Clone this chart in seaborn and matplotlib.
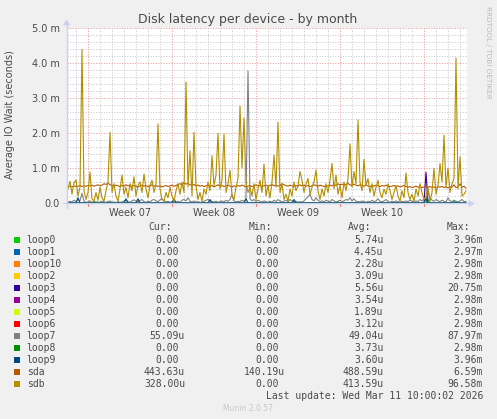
import numpy as np
import pandas as pd
import matplotlib
matplotlib.use("Agg")
import matplotlib.pyplot as plt
from matplotlib.patches import Rectangle, Polygon
from matplotlib.lines import Line2D
import seaborn as sns
from datetime import datetime, timedelta

# ---------------- data (values in milliseconds, 4-hour samples) ----------------
START = datetime(2026, 2, 6, 6, 0)
STEP_H = 4
SPAN_H = 800

sdb = [0.40, 0.62, 0.25, 0.58, 0.66, 0.20, 0.45, 4.39, 0.35, 0.10,
       0.30, 0.88, 0.12, 0.05, 0.30, 0.08, 0.45, 0.15, 0.05, 0.35,
       0.60, 2.02, 0.30, 0.55, 0.20, 0.05, 0.40, 0.80, 0.25, 0.45,
       0.15, 0.55, 0.35, 0.75, 0.20, 0.50, 0.60, 0.30, 0.83, 0.40,
       0.15, 0.50, 0.65, 0.30, 0.55, 2.26, 0.40, 0.10, 0.05, 0.30,
       0.15, 0.45, 0.20, 0.05, 0.35, 0.55, 0.25, 0.60, 0.30, 3.46,
       0.45, 1.49, 0.20, 2.02, 0.50, 0.10, 0.30, 0.05, 0.40, 0.25,
       0.60, 0.35, 1.35, 0.50, 0.80, 1.99, 0.40, 0.65, 1.97, 0.30,
       0.55, 0.94, 0.20, 0.10, 0.45, 0.70, 2.77, 1.00, 2.43, 0.60,
       0.30, 0.45, 0.20, 0.55, 0.10, 0.40, 0.65, 0.30, 1.11, 0.20,
       0.50, 0.15, 0.60, 1.37, 0.45, 2.31, 0.30, 0.55, 0.10, 0.25,
       0.05, 0.40, 0.20, 0.60, 0.35, 0.50, 0.90, 0.65, 0.30, 0.55,
       0.70, 0.25, 0.45, 0.60, 0.94, 0.35, 0.10, 0.40, 0.20, 0.55,
       0.30, 0.65, 1.13, 0.40, 0.80, 0.25, 0.50, 0.15, 0.60, 0.35,
       0.70, 1.69, 0.45, 0.90, 0.55, 2.37, 0.60, 0.35, 1.25, 0.50,
       0.70, 0.30, 0.55, 0.20, 0.45, 0.65, 0.30, 0.15, 0.40, 0.25,
       0.55, 0.35, 0.10, 0.30, 0.50, 0.20, 0.05, 0.35, 0.15, 0.86,
       0.30, 0.10, 0.25, 0.05, 0.40, 0.20, 0.55, 0.30, 0.10, 0.20,
       0.45, 0.05, 0.30, 0.99, 0.25, 0.50, 1.13, 0.60, 1.94, 0.45,
       1.00, 0.30, 0.55, 0.70, 4.14, 0.40, 1.32, 0.20, 0.25, 0.35]

sda = [0.47, 0.48, 0.46, 0.49, 0.47, 0.48, 0.50, 0.47, 0.49, 0.48,
       0.50, 0.49, 0.51, 0.48, 0.50, 0.52, 0.49, 0.51, 0.55, 0.53,
       0.57, 0.52, 0.50, 0.48, 0.51, 0.49, 0.47, 0.50, 0.48, 0.52,
       0.49, 0.51, 0.47, 0.50, 0.48, 0.46, 0.49, 0.51, 0.48, 0.50,
       0.47, 0.49, 0.52, 0.48, 0.50, 0.47, 0.49, 0.46, 0.48, 0.50,
       0.47, 0.49, 0.51, 0.48, 0.50, 0.53, 0.55, 0.52, 0.58, 0.54,
       0.56, 0.52, 0.50, 0.53, 0.49, 0.51, 0.48, 0.50, 0.47, 0.49,
       0.51, 0.48, 0.50, 0.46, 0.49, 0.52, 0.48, 0.50, 0.47, 0.49,
       0.51, 0.48, 0.46, 0.49, 0.47, 0.50, 0.48, 0.51, 0.49, 0.46,
       0.48, 0.50, 0.47, 0.49, 0.52, 0.48, 0.50, 0.47, 0.49, 0.51,
       0.48, 0.50, 0.53, 0.49, 0.51, 0.48, 0.50, 0.55, 0.52, 0.50,
       0.48, 0.51, 0.49, 0.47, 0.50, 0.48, 0.52, 0.49, 0.51, 0.48,
       0.50, 0.47, 0.49, 0.52, 0.50, 0.48, 0.51, 0.49, 0.47, 0.50,
       0.48, 0.51, 0.49, 0.53, 0.50, 0.55, 0.52, 0.54, 0.51, 0.53,
       0.56, 0.52, 0.50, 0.54, 0.51, 0.49, 0.52, 0.50, 0.48, 0.51,
       0.49, 0.47, 0.50, 0.48, 0.51, 0.49, 0.47, 0.50, 0.48, 0.51,
       0.49, 0.47, 0.48, 0.50, 0.47, 0.49, 0.46, 0.48, 0.50, 0.47,
       0.45, 0.47, 0.44, 0.46, 0.48, 0.45, 0.47, 0.44, 0.46, 0.49,
       0.45, 0.47, 0.44, 0.46, 0.43, 0.47, 0.45, 0.48, 0.44, 0.46,
       0.43, 0.47, 0.45, 0.52, 0.44, 0.46, 0.55, 0.45, 0.48, 0.42]

loop7 = [0.02, 0.05, 0.03, 0.08, 0.04, 0.10, 0.06, 0.28, 0.05, 0.02,
         0.03, 0.06, 0.02, 0.04, 0.01, 0.03, 0.02, 0.05, 0.03, 0.02,
         0.04, 0.06, 0.02, 0.03, 0.01, 0.04, 0.02, 0.03, 0.06, 0.08,
         0.04, 0.02, 0.06, 0.09, 0.05, 0.03, 0.07, 0.10, 0.04, 0.02,
         0.05, 0.03, 0.08, 0.10, 0.06, 0.04, 0.09, 0.12, 0.06, 0.03,
         0.05, 0.02, 0.04, 0.06, 0.03, 0.05, 0.02, 0.08, 0.10, 0.06,
         0.15, 0.05, 0.03, 0.06, 0.02, 0.04, 0.02, 0.03, 0.05, 0.08,
         0.10, 0.06, 0.04, 0.03, 0.05, 0.02, 0.04, 0.06, 0.03, 0.08,
         0.05, 0.10, 0.25, 0.06, 0.03, 0.05, 0.04, 0.08, 0.05, 0.10,
         3.77, 0.12, 0.06, 0.10, 0.04, 0.08, 0.05, 0.03, 0.06, 0.04,
         0.02, 0.05, 0.03, 0.08, 0.04, 0.10, 0.06, 0.03, 0.05, 0.08,
         0.04, 0.10, 0.06, 0.03, 0.05, 0.02, 0.04, 0.03, 0.06, 0.12,
         0.18, 0.25, 0.10, 0.06, 0.15, 0.08, 0.04, 0.06, 0.03, 0.08,
         0.05, 0.04, 0.10, 0.06, 0.03, 0.05, 0.08, 0.04, 0.06, 0.10,
         0.08, 0.15, 0.06, 0.12, 0.05, 0.04, 0.03, 0.06, 0.04, 0.02,
         0.05, 0.03, 0.08, 0.04, 0.06, 0.12, 0.05, 0.03, 0.06, 0.10,
         0.04, 0.02, 0.05, 0.03, 0.06, 0.04, 0.02, 0.05, 0.03, 0.06,
         0.04, 0.08, 0.05, 0.03, 0.06, 0.04, 0.10, 0.06, 0.12, 0.08,
         0.32, 0.15, 0.08, 0.05, 0.10, 0.06, 0.04, 0.08, 0.05, 0.03,
         0.15, 0.06, 0.04, 0.08, 0.05, 0.03, 0.06, 0.10, 0.04, 0.05]

# sparse spikes of the mostly idle loop devices (sample index, value)
loop9_idx = [5, 29, 35, 53, 71, 89, 113, 179]
loop9_val = [0.15, 0.12, 0.12, 0.13, 0.10, 0.12, 0.10, 0.12]
loop3_idx = [179]
loop3_val = [0.88]
loop0_idx = [13, 135, 193]
loop0_val = [0.04, 0.04, 0.05]
loop8_idx = [14, 110, 180]
loop8_val = [0.03, 0.03, 0.10]
loop1_idx = [194]
loop1_val = [0.03]

# legend table
names = ["loop0", "loop1", "loop10", "loop2", "loop3", "loop4", "loop5",
         "loop6", "loop7", "loop8", "loop9", "sda", "sdb"]
colors = ["#00CC00", "#0066B3", "#FF8000", "#FFCC00", "#330099", "#990099",
          "#CCFF00", "#FF0000", "#808080", "#008F00", "#00487D", "#B35A00",
          "#B38F00"]
cur_num = ["0.00"] * 8 + ["55.09", "0.00", "0.00", "443.63", "328.00"]
cur_unit = [""] * 8 + ["u", "", "", "u", "u"]
min_num = ["0.00"] * 11 + ["140.19", "0.00"]
min_unit = [""] * 11 + ["u", ""]
avg_num = ["5.74", "4.45", "2.28", "3.09", "5.56", "3.54", "1.89", "3.12",
           "49.04", "3.73", "3.60", "488.59", "413.59"]
avg_unit = ["u"] * 13
max_num = ["3.96", "2.97", "2.98", "2.98", "20.75", "2.98", "2.98", "2.98",
           "87.97", "2.98", "3.96", "6.59", "96.58"]
max_unit = ["m"] * 13

y_ticks = [0, 1, 2, 3, 4, 5]
y_tick_labels = ["0.0", "1.0 m", "2.0 m", "3.0 m", "4.0 m", "5.0 m"]

# ---------------- build series ----------------
n = len(sdb)
hours = np.arange(n) * STEP_H + 2


def sparse(idx, val):
    arr = np.zeros(n)
    arr[idx] = val
    return arr


series = {
    "loop0": sparse(loop0_idx, loop0_val),
    "loop1": sparse(loop1_idx, loop1_val),
    "loop10": np.zeros(n),
    "loop2": np.zeros(n),
    "loop3": sparse(loop3_idx, loop3_val),
    "loop4": np.zeros(n),
    "loop5": np.zeros(n),
    "loop6": np.zeros(n),
    "loop7": np.array(loop7),
    "loop8": sparse(loop8_idx, loop8_val),
    "loop9": sparse(loop9_idx, loop9_val),
    "sda": np.array(sda),
    "sdb": np.array(sdb),
}

# ---------------- figure ----------------
sns.set_theme(style="white")
plt.rcParams["font.family"] = ["DejaVu Sans"]

W, H = 497, 419
fig = plt.figure(figsize=(W / 100, H / 100), dpi=100, facecolor="#F0F0F0")


def fx(px):
    return px / W


def fy(py):
    return 1 - py / H


L, T, R, B = 67, 28, 467, 203
ax = fig.add_axes([fx(L), fy(B), (R - L) / W, (B - T) / H])
ax.set_facecolor("#FFFFFF")
ax.set_xlim(0, SPAN_H)
ax.set_ylim(0, 5.0)
for s in ax.spines.values():
    s.set_visible(False)

dot = (0, (1, 1.6))
minor_col = "#C8C8C8"
major_col = "#EE9A9A"
# horizontal grid
for v in np.arange(0.2, 5.01, 0.2):
    major = abs(v - round(v)) < 1e-6
    ax.axhline(v, color=major_col if major else minor_col, lw=0.72,
               ls=dot, zorder=1)
# vertical grid (days / weeks)
day0 = datetime(START.year, START.month, START.day)
week_starts = []
for d in range(0, 40):
    t = day0 + timedelta(days=d)
    h = (t - START).total_seconds() / 3600
    if 0 < h <= SPAN_H:
        major = t.weekday() == 6
        ax.axvline(h, color=major_col if major else minor_col, lw=0.72,
                   ls=dot, zorder=1)
        if major:
            week_starts.append((t, h))

# series
for name, col in zip(names, colors):
    df = pd.DataFrame({"h": hours, "v": series[name]})
    sns.lineplot(data=df, x="h", y="v", color=col, lw=0.8, ax=ax,
                 estimator=None, sort=False, zorder=3)
ax.set_xlabel("")
ax.set_ylabel("")

txtcol = "#4A4A4A"
ax.set_yticks(y_ticks)
ax.set_yticklabels(y_tick_labels, fontsize=7, color=txtcol)
ax.tick_params(axis="y", length=0, pad=5)
ax.set_xticks([])

# week labels centred in the week
for t, h in week_starts:
    mid = h + 84
    if mid < SPAN_H - 30:
        label = "Week %02d" % (t + timedelta(days=3, hours=12)).isocalendar()[1]
        fig.text(fx(L + mid / 2), fy(212.5), label, ha="center", va="center",
                 fontsize=7, color=txtcol)
    fig.add_artist(Line2D([fx(L + h / 2)] * 2, [fy(B), fy(B + 3)],
                          color="#F08080", lw=0.8))

# axes with arrows
acol = "#C8D0F4"
fig.add_artist(Line2D([fx(L - 0.5)] * 2, [fy(B + 5), fy(T - 4)], color=acol, lw=1))
fig.add_artist(Line2D([fx(L - 4), fx(R + 4)], [fy(B + 0.5)] * 2, color=acol, lw=1))
fig.add_artist(Polygon([[fx(L - 3.5), fy(T - 3)], [fx(L + 2.5), fy(T - 3)],
                        [fx(L - 0.5), fy(T - 8)]], closed=True,
                       facecolor=acol, edgecolor=acol, lw=0.5))
fig.add_artist(Polygon([[fx(R + 2), fy(B - 2.5)], [fx(R + 2), fy(B + 3.5)],
                        [fx(R + 7), fy(B + 0.5)]], closed=True,
                       facecolor=acol, edgecolor=acol, lw=0.5))

# titles
fig.text(fx(248), fy(19), "Disk latency per device - by month", ha="center",
         va="center", fontsize=9, color=txtcol)
fig.text(fx(10), fy(115), "Average IO Wait (seconds)", ha="center",
         va="center", rotation=90, fontsize=7, color=txtcol)
fig.text(fx(488), fy(6), "RRDTOOL / TOBI OETIKER", ha="center", va="top",
         rotation=270, fontsize=5.2, color="#BBBBBB")

# legend table (monospace columns)
mono = "DejaVu Sans Mono"
fs = 7
cw = 0.6021 * fs * 100 / 72  # character advance in pixels
ycur = 227.3
for lbl, xr in [("Cur:", 171.7), ("Min:", 271.7), ("Avg:", 371), ("Max:", 470)]:
    fig.text(fx(xr - len(lbl) * cw), fy(ycur), lbl, ha="left", va="center",
             family=mono, fontsize=fs, color=txtcol)
cols = [(cur_num, cur_unit, 179), (min_num, min_unit, 279),
        (avg_num, avg_unit, 377.3), (max_num, max_unit, 476.5)]
for k, (name, col) in enumerate(zip(names, colors)):
    yc = 239.7 + 12 * k
    fig.add_artist(Rectangle((fx(14), fy(yc + 3)), 6 / W, 6 / H, facecolor=col,
                             edgecolor="none", transform=fig.transFigure))
    fig.text(fx(26.7), fy(yc), name, ha="left", va="center", family=mono,
             fontsize=fs, color=txtcol)
    for nums, units, xr in cols:
        s = nums[k] + units[k]
        fig.text(fx(xr - len(nums[k]) * cw), fy(yc), s, ha="left",
                 va="center", family=mono, fontsize=fs, color=txtcol)

upd = "Last update: Wed Mar 11 10:00:02 2026"
fig.text(fx(482.7 - len(upd) * cw), fy(395.7), upd, ha="left", va="center",
         family=mono, fontsize=fs, color=txtcol)
fig.text(fx(248), fy(408.3), "Munin 2.0.57", ha="center", va="center",
         fontsize=5.5, color="#C8C8C8")

fig.savefig("out.png", dpi=100, facecolor=fig.get_facecolor())
